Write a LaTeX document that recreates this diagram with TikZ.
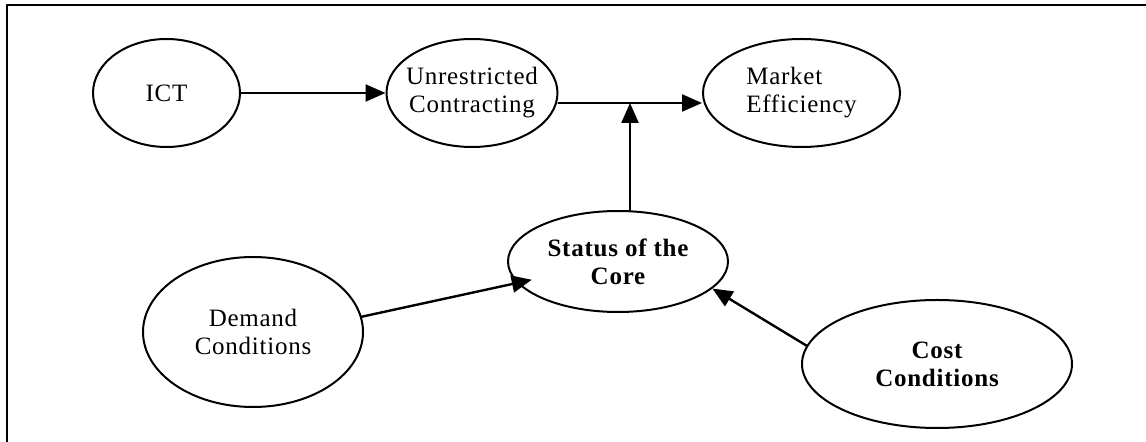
\documentclass[tikz,border=0pt]{standalone}
\usepackage{fontspec}
\setmainfont{Liberation Serif}[LetterSpace=3]
\usetikzlibrary{arrows.meta, calc, positioning, shapes.geometric}

\begin{document}
\begin{tikzpicture}[line cap=round,line join=round,>={Triangle[length=10pt,width=8.5pt]},x=0.5pt,y=-0.5pt,
  every node/.style={font=\fontsize{12.5}{14}\selectfont},
  bubble/.style={draw,ellipse,line width=1pt,inner xsep=-5pt,inner ysep=0pt,align=center},
  bold/.style={font=\fontsize{12.5}{14}\selectfont\bfseries},
  link/.style={->,line width=1.2pt}]
\useasboundingbox (0,0) rectangle (1146,442);

% Frame
\draw [line width=1pt] (7,442) -- (7,5) -- (1146,5);

% Top row
\node [bubble,minimum width=73.5pt,minimum height=54pt] (ICT) at (166.5,93) {ICT};
\node [bubble,minimum width=85.5pt,minimum height=54pt] (UC) at (472,93) {Unrestricted\\Contracting};
\node [bubble,minimum width=98.5pt,minimum height=54pt,align=left] (ME) at (801.5,93) {Market\\Efficiency};

% Core and conditions
\node [bubble,bold,minimum width=110pt,minimum height=50.5pt] (SC) at (618,261.5) {Status of the\\Core};
\node [bubble,minimum width=110pt,minimum height=75pt] (DC) at (253,332) {Demand\\Conditions};
\node [bubble,bold,minimum width=135pt,minimum height=64pt] (CC) at (937,364) {Cost\\Conditions};

% Arrows
\coordinate (J) at (630,103);
\draw [link] (ICT.east) -- (UC.west);
\draw [link] (UC.east |- J) -- (ME.west |- J);
\draw [link] (SC.north -| J) -- (J);
\draw [link,shorten >=-7.5pt] (DC.8) -- (SC.192);
\draw [link] (CC.172) -- (SC.344);
\end{tikzpicture}
\end{document}
